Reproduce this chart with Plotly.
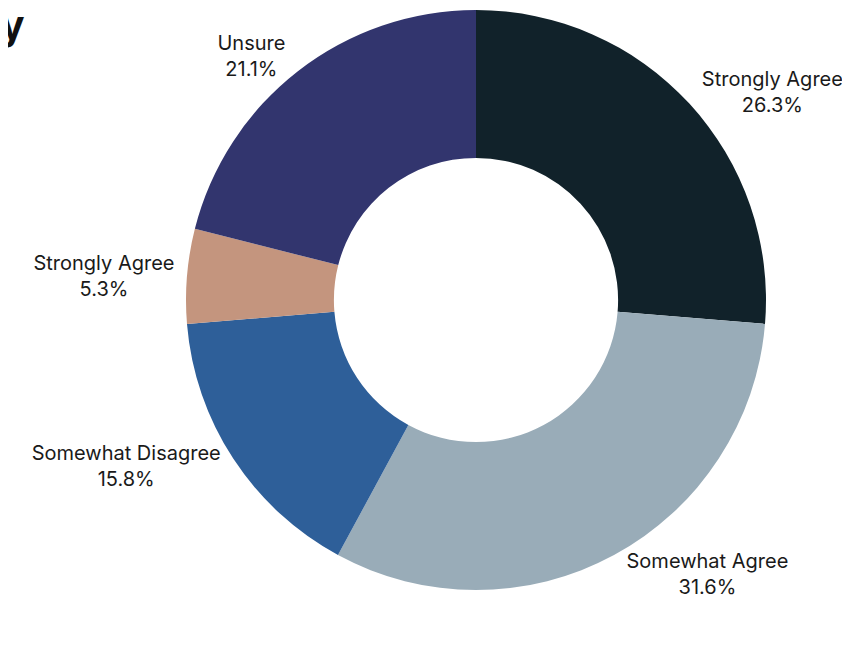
import plotly.graph_objects as go

slice_ids = ["strongly_agree_a", "somewhat_agree", "somewhat_disagree", "strongly_agree_b", "unsure"]
label_names = ["Strongly Agree", "Somewhat Agree", "Somewhat Disagree", "Strongly Agree", "Unsure"]
counts = [5, 6, 3, 1, 4]
colors = ["#11222a", "#99acb8", "#2e5f99", "#c4957e", "#32356e"]
title_text = "Survey"

fig = go.Figure(go.Pie(
    labels=slice_ids,
    values=counts,
    customdata=label_names,
    texttemplate="%{customdata}<br>%{percent:.1%}",
    textposition="outside",
    sort=False,
    direction="clockwise",
    rotation=0,
    hole=0.49,
    marker=dict(colors=colors, line=dict(width=0)),
    outsidetextfont=dict(family="Inter, Lato, sans-serif", size=20, color="#1a1a1a"),
    showlegend=False,
    hoverinfo="skip",
))

fig.add_annotation(
    text="<b>" + title_text + "</b>", xref="paper", yref="paper",
    x=-0.089, y=1.0214,
    xanchor="right", yanchor="top", showarrow=False,
    font=dict(family="Inter, sans-serif", size=40, color="#111111"),
)

fig.update_layout(
    width=850, height=647,
    margin=dict(l=86, r=0, t=2, b=65, autoexpand=False),
    paper_bgcolor="white", plot_bgcolor="white",
)

fig.write_html("out.html")
